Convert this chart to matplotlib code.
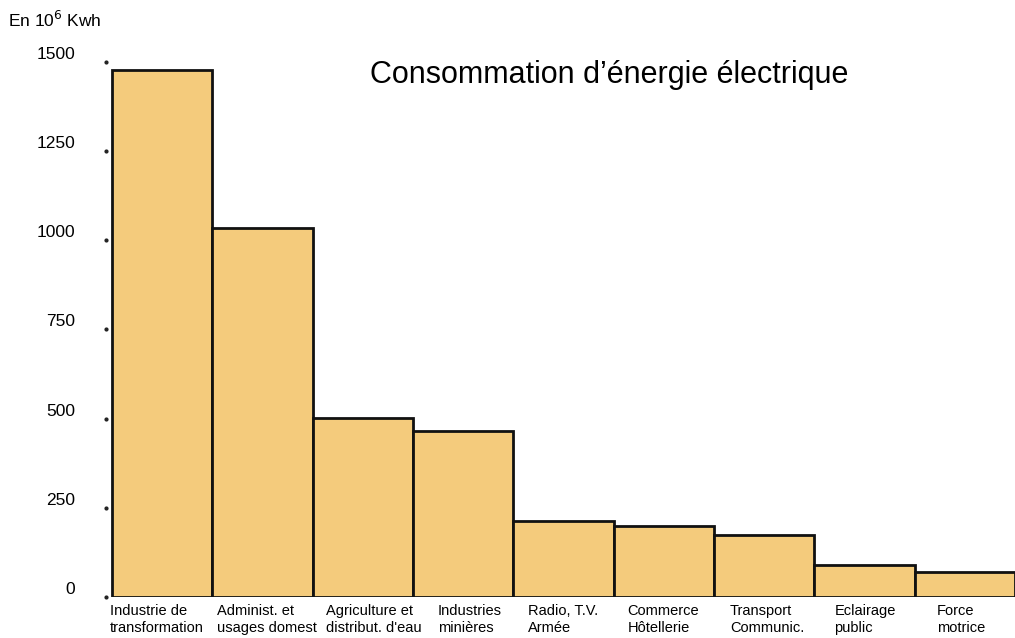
import matplotlib
matplotlib.use("Agg")
import matplotlib.pyplot as plt
import numpy as np

categories = ["Industrie de\ntransformation", "Administ. et\nusages domest", "Agriculture et\ndistribut. d'eau",
              "Industries\nminières", "Radio, T.V.\nArmée", "Commerce\nHôtellerie", "Transport\nCommunic.",
              "Eclairage\npublic", "Force\nmotrice"]
values = [1476, 1034, 501, 465, 213, 199, 175, 90, 70]
yticks = [0, 250, 500, 750, 1000, 1250, 1500]

plt.rcParams['font.family'] = ['Liberation Sans', 'DejaVu Sans']

fig = plt.figure(figsize=(10.15, 6.38), dpi=100)
ax = fig.add_axes([106/1015, 41/638, 1 - 106/1015, (597-26)/638])

x = np.arange(len(values))
ax.bar(x, values, width=1.0, align='edge', color='#F4CB7C', edgecolor='#111111', linewidth=2)

ax.set_xlim(-0.06, 9.0)
ax.set_ylim(0, 1600)
for s in ax.spines.values():
    s.set_visible(False)

ax.set_yticks(yticks)
ax.set_yticklabels([str(v) for v in yticks], fontsize=12.5)
ax.tick_params(axis='y', length=0, pad=22)
for lab in ax.get_yticklabels():
    lab.set_va('bottom')
ax.plot(np.full(len(yticks), -0.06), yticks, 'o', color='#222222', markersize=2, clip_on=False)

offsets = [-0.02, 0.05, 0.13, 0.25, 0.15, 0.14, 0.16, 0.2, 0.22]
ax.set_xticks(x + np.array(offsets))
ax.set_xticklabels(categories, fontsize=10.5, ha='left', linespacing=1.3)
ax.tick_params(axis='x', length=0, pad=5)

fig.text(370/1015, 1 - 75/638, "Consommation d\u2019énergie électrique", fontsize=22, va='center', ha='left')
fig.text(8/1015, 1 - 20/638, r"En 10$^6$ Kwh", fontsize=12.5, va='center', ha='left')

fig.savefig("out.png", dpi=100)
